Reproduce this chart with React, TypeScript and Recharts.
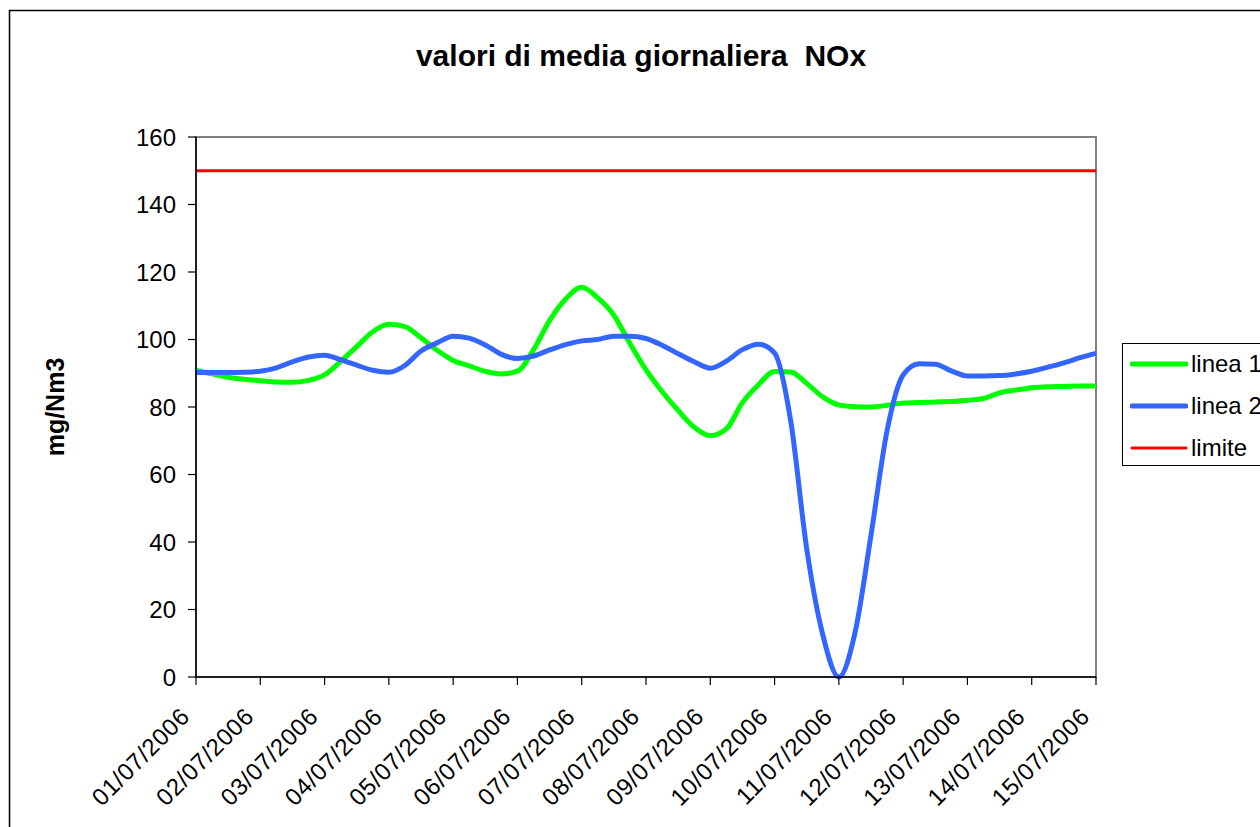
import React from 'react';
import { LineChart, Line, XAxis, YAxis, Legend, ReferenceArea } from 'recharts';

// Category labels (one per day)
const dates = [
  '01/07/2006', '02/07/2006', '03/07/2006', '04/07/2006', '05/07/2006',
  '06/07/2006', '07/07/2006', '08/07/2006', '09/07/2006', '10/07/2006',
  '11/07/2006', '12/07/2006', '13/07/2006', '14/07/2006', '15/07/2006',
];

const SAMPLES_PER_DAY = 4;

const linea1 = [
  90.9, 89.8, 88.8, 88.2, 87.8, 87.4, 87.3, 87.9, 89.5, 93.5,
  97.9, 102.3, 104.5, 103.8, 100.5, 96.8, 93.8, 92.2, 90.6, 89.8,
  90.6, 96.9, 105.6, 112.0, 115.5, 112.3, 107.2, 98.8, 91.0, 84.6,
  79.0, 74.0, 71.5, 73.5, 81.3, 86.6, 90.5, 90.4, 87.0, 83.0,
  80.6, 80.1, 80.0, 80.5, 81.2, 81.3, 81.5, 81.6, 82.0, 82.5,
  84.2, 85.0, 85.7, 86.0, 86.1, 86.2, 86.2,
];

const linea2 = [
  90.2, 90.2, 90.2, 90.3, 90.6, 91.6, 93.4, 94.8, 95.3, 94.0,
  92.4, 90.9, 90.3, 92.3, 96.6, 99.0, 101.0, 100.4, 98.4, 95.6,
  94.4, 95.1, 96.9, 98.5, 99.6, 100.0, 101.0, 101.0, 100.3, 98.3,
  95.8, 93.4, 91.5, 93.6, 97.0, 98.6, 96.0, 76.0, 38.0, 12.5,
  0.0, 13.0, 42.0, 73.0, 89.5, 92.8, 92.7, 90.7, 89.2, 89.2,
  89.3, 89.8, 90.6, 91.8, 93.1, 94.6, 95.9,
];

const limite = 150;

const yTicks = [0, 20, 40, 60, 80, 100, 120, 140, 160];
const xTicks = dates.map((_, i) => i);

const data = linea1.map((v, i) => ({
  t: i / SAMPLES_PER_DAY,
  l1: v,
  l2: linea2[i],
  lim: limite,
}));

const FONT = '"Liberation Sans", Arial, Helvetica, sans-serif';

const widths: Record<string, number> = { l1: 5, l2: 5, lim: 3 };
const legendOrder = ['l1', 'l2', 'lim'];

const XTick = (props: any) => {
  const { x, y, payload } = props;
  const ax = x - 5;
  const ay = y + 31;
  return (
    <text
      x={ax}
      y={ay}
      transform={`rotate(-45 ${ax} ${ay})`}
      textAnchor="end"
      fontSize={24}
      letterSpacing={0.6}
      fontFamily={FONT}
      fill="#000"
    >
      {dates[payload.value]}
    </text>
  );
};

const YLabel = () => (
  <text
    x={55}
    y={407}
    transform="rotate(-90 55 407)"
    textAnchor="middle"
    dominantBaseline="central"
    fontSize={25}
    fontWeight="bold"
    fontFamily={FONT}
    fill="#000"
  >
    mg/Nm3
  </text>
);

const LegendBox = (props: any) => {
  const items = [...(props.payload || [])].sort(
    (a: any, b: any) => legendOrder.indexOf(a.dataKey) - legendOrder.indexOf(b.dataKey)
  );
  return (
    <div
      style={{
        border: '1px solid #000',
        background: '#fff',
        width: 170,
        height: 123,
        boxSizing: 'border-box',
        position: 'relative',
        fontFamily: FONT,
        fontSize: 24,
        color: '#000',
      }}
    >
      {items.map((it: any, i: number) => (
        <div
          key={it.value}
          style={{
            position: 'absolute',
            left: 7,
            top: 20 + i * 42 - 15,
            height: 30,
            display: 'flex',
            alignItems: 'center',
            whiteSpace: 'nowrap',
          }}
        >
          <svg width={58} height={10}>
            <line
              x1={2}
              x2={56}
              y1={5}
              y2={5}
              stroke={it.color}
              strokeWidth={widths[it.dataKey] || 3}
              strokeLinecap="round"
            />
          </svg>
          <span style={{ marginLeft: 3, lineHeight: '30px' }}>{it.value}</span>
        </div>
      ))}
    </div>
  );
};

export default function App() {
  return (
    <div
      style={{
        position: 'absolute',
        left: 0,
        top: 0,
        width: 1260,
        height: 827,
        overflow: 'hidden',
        background: '#fff',
      }}
    >
      <svg
        width={1260}
        height={827}
        style={{ position: 'absolute', left: 0, top: 0, pointerEvents: 'none' }}
      >
        <rect x={9.5} y={10.5} width={1400} height={1000} fill="none" stroke="#000" strokeWidth={1.5} />
        <text
          x={641}
          y={66}
          textAnchor="middle"
          fontSize={30}
          fontWeight="bold"
          fontFamily={FONT}
          fill="#000"
          style={{ whiteSpace: 'pre' }}
          xmlSpace="preserve"
        >
          {'valori di media giornaliera  NOx'}
        </text>
      </svg>
      <div style={{ position: 'absolute', left: 0, top: 0 }}>
        <LineChart
          width={1260}
          height={827}
          data={data}
          margin={{ top: 137, left: 136, right: 164, bottom: 50 }}
        >
          <ReferenceArea
            x1={0}
            x2={14}
            y1={0}
            y2={160}
            fill="none"
            stroke="#808080"
            strokeWidth={2}
          />
          <XAxis
            dataKey="t"
            type="number"
            domain={[0, 14]}
            ticks={xTicks}
            interval={0}
            height={100}
            tickSize={8}
            tickMargin={2}
            axisLine={{ stroke: '#000', strokeWidth: 1.5 }}
            tickLine={{ stroke: '#000', strokeWidth: 1.2 }}
            tick={<XTick />}
          />
          <YAxis
            type="number"
            domain={[0, 160]}
            ticks={yTicks}
            interval={0}
            width={60}
            tickSize={8}
            tickMargin={12}
            axisLine={{ stroke: '#000', strokeWidth: 1.5 }}
            tickLine={{ stroke: '#000', strokeWidth: 1.2 }}
            tick={{ fontSize: 24, fontFamily: FONT, fill: '#000' }}
            label={<YLabel />}
          />
          <Legend
            layout="vertical"
            align="center"
            verticalAlign="middle"
            content={<LegendBox />}
            wrapperStyle={{ left: 1122, top: 343, width: 170 }}
          />
          <Line
            type="monotone"
            dataKey="l1"
            name="linea 1"
            stroke="#00FF00"
            strokeWidth={5}
            dot={false}
            isAnimationActive={false}
          />
          <Line
            type="monotone"
            dataKey="l2"
            name="linea 2"
            stroke="#3366FF"
            strokeWidth={5}
            dot={false}
            isAnimationActive={false}
          />
          <Line
            type="monotone"
            dataKey="lim"
            name="limite"
            stroke="#FF0000"
            strokeWidth={3}
            dot={false}
            isAnimationActive={false}
          />
        </LineChart>
      </div>
    </div>
  );
}
